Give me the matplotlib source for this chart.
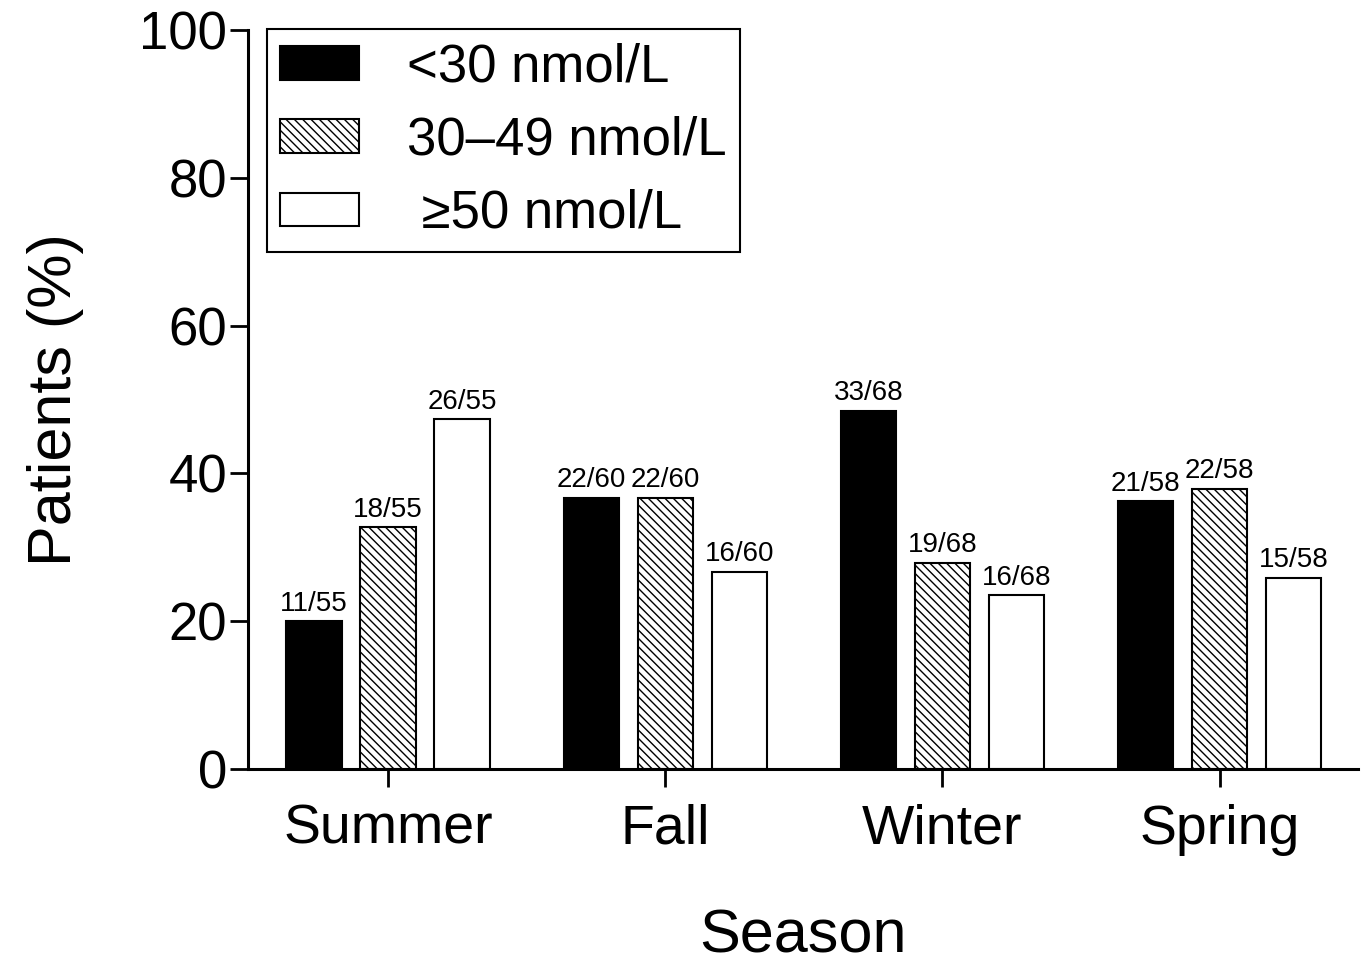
import matplotlib.pyplot as plt
import numpy as np

plt.rcParams['font.family'] = ['Liberation Sans', 'DejaVu Sans']
plt.rcParams['hatch.linewidth'] = 1.0

seasons = ['Summer', 'Fall', 'Winter', 'Spring']
series_names = ['<30 nmol/L', '30\u201349 nmol/L', ' \u226550 nmol/L']
pct_low = [20.0, 36.7, 48.5, 36.2]
pct_mid = [32.7, 36.7, 27.9, 37.9]
pct_high = [47.3, 26.7, 23.5, 25.9]
lab_low = ['11/55', '22/60', '33/68', '21/58']
lab_mid = ['18/55', '22/60', '19/68', '22/58']
lab_high = ['26/55', '16/60', '16/68', '15/58']

fig = plt.figure(figsize=(13.65, 9.64), dpi=100)
ax = fig.add_axes([0.1817, 0.2023, 0.8133, 0.7666])

x = np.arange(len(seasons))
pitch = 0.267
w = 0.199
styles = [dict(color='black', edgecolor='black', hatch=None),
          dict(color='white', edgecolor='black', hatch='\\\\\\\\'),
          dict(color='white', edgecolor='black', hatch=None)]
for i, (vals, labs) in enumerate(zip([pct_low, pct_mid, pct_high], [lab_low, lab_mid, lab_high])):
    bars = ax.bar(x + (i - 1) * pitch, vals, w, label=series_names[i],
                  linewidth=1.5, zorder=2, **styles[i])
    for b, t in zip(bars, labs):
        ax.text(b.get_x() + b.get_width() / 2, b.get_height() + 0.6, t,
                ha='center', va='bottom', fontsize=20)

ax.set_xlim(-0.505, 3.50)
ax.set_ylim(0, 100)
ax.set_yticks([0, 20, 40, 60, 80, 100])
ax.set_xticks(x)
ax.set_xticklabels(seasons)
ax.tick_params(axis='both', labelsize=38, length=13, width=2, direction='out')
ax.tick_params(axis='x', labelsize=40, pad=12)
ax.tick_params(axis='y', pad=2)
for s in ['top', 'right']:
    ax.spines[s].set_visible(False)
for s in ['left', 'bottom']:
    ax.spines[s].set_linewidth(2.2)

ax.set_xlabel('Season', fontsize=44, labelpad=38)
ax.set_ylabel('Patients (%)', fontsize=44, labelpad=40)

leg = ax.legend(loc='upper left', bbox_to_anchor=(0.017, 1.001), fontsize=38,
                handlelength=1.5, handleheight=0.6, handletextpad=0.9,
                borderaxespad=0, fancybox=False, edgecolor='black',
                framealpha=1, borderpad=0.25, labelspacing=0.44)
leg.get_frame().set_linewidth(1.5)

fig.savefig('out.png', dpi=100)
